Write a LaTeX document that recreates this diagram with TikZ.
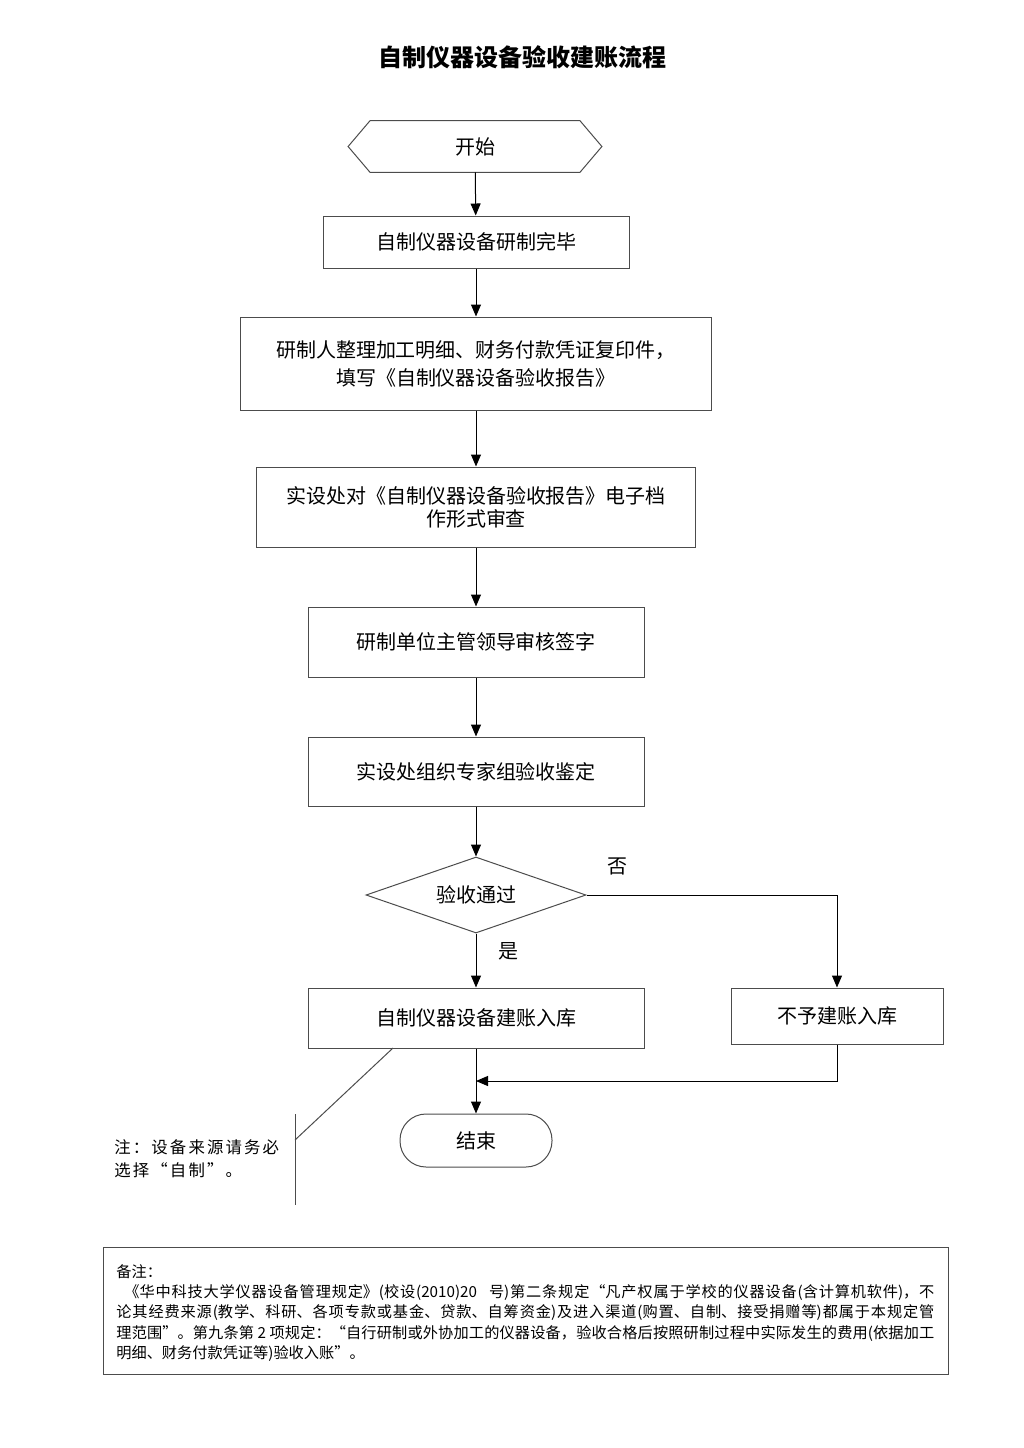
\documentclass[tikz,border=0pt]{standalone}
\usepackage{fontspec}
\setmainfont{Noto Sans CJK SC}
\usetikzlibrary{arrows.meta,shapes.geometric}
\XeTeXlinebreaklocale "zh"
\XeTeXlinebreakskip=0pt plus 1pt
\begin{document}
\begin{tikzpicture}[x=0.5pt,y=-0.5pt,
  ln/.style={draw=black!70,line width=0.5pt},
  box/.style={ln,rectangle,inner sep=0pt,align=center,font=\fontsize{10}{14}\selectfont},
  arr/.style={-{Triangle[length=6pt,width=5pt]},line width=0.5pt,draw=black},
  lbl/.style={inner sep=0pt,font=\fontsize{10}{14}\selectfont}]
\useasboundingbox (0,0) rectangle (1024,1448);
\node[inner sep=0pt,font=\fontsize{12}{14}\bfseries] (title) at (522,57) {自制仪器设备验收建账流程};
% start
\node[lbl,minimum width=126.5pt,minimum height=25.5pt] (start) at (475,146.5) {开始};
\draw[ln] (start.west) -- ([xshift=11pt]start.north west) -- ([xshift=-11pt]start.north east) -- (start.east) -- ([xshift=-11pt]start.south east) -- ([xshift=11pt]start.south west) -- cycle;
\node[box,minimum width=153pt,minimum height=26pt] (b1) at (476,242) {自制仪器设备研制完毕};
\node[box,minimum width=235.5pt,minimum height=46.5pt] (b2) at (476,363.5) {研制人整理加工明细、财务付款凭证复印件，\\ 填写《自制仪器设备验收报告》};
\node[box,minimum width=219.5pt,minimum height=40pt,font=\fontsize{10}{11.5}\selectfont] (b3) at (476,507) {实设处对《自制仪器设备验收报告》电子档\\ 作形式审查};
\node[box,minimum width=168pt,minimum height=35pt] (b4) at (476,642) {研制单位主管领导审核签字};
\node[box,minimum width=168pt,minimum height=34.5pt] (b5) at (476,771.5) {实设处组织专家组验收鉴定};
\node[ln,diamond,aspect=2.9,inner sep=0pt,minimum width=110pt,minimum height=38pt,font=\fontsize{10}{14}\selectfont] (dec) at (476,895) {验收通过};
\node[box,minimum width=168pt,minimum height=30pt] (b6) at (476,1018) {自制仪器设备建账入库};
\node[box,minimum width=106pt,minimum height=28pt] (b7) at (837,1016) {不予建账入库};
\node[box,rounded corners=13pt,minimum width=76pt,minimum height=26.5pt] (end) at (476,1140.5) {结束};
\node[lbl] (no) at (617,866) {否};
\node[lbl] (yes) at (508,951) {是};
% arrows
\draw[arr] (start) -- (b1);
\draw[arr] (b1) -- (b2);
\draw[arr] (b2) -- (b3);
\draw[arr] (b3) -- (b4);
\draw[arr] (b4) -- (b5);
\draw[arr] (b5) -- (dec);
\draw[arr] (dec) -- (b6);
\draw[arr] (dec.east) -| (b7.north);
\draw[arr] (b6) -- (end);
\coordinate (merge) at (476,1081);
\draw[arr] (b7.south) |- (merge);
% annotation
\coordinate (at) at (295,1114);
\coordinate (ab) at (295,1205);
\coordinate (am) at (295,1140);
\coordinate (ae) at (393,1048);
\draw[ln] (at) -- (ab);
\draw[ln] (am) -- (ae);
\node[anchor=west,inner sep=0pt,align=left,font=\fontsize{8.2}{11.5}\selectfont\addfontfeature{LetterSpace=13}] (ann) at (114,1158.5) {注：设备来源请务必\\ 选择“自制”。};
% note box
\node[ln,inner sep=0pt,minimum width=422.5pt,minimum height=63.5pt] (notebox) at (525.5,1310.5) {};
\node[anchor=north west,inner sep=0pt,text width=409pt,align=justify,font=\fontsize{7.6}{10.15}\selectfont] (notetext) at (116,1264) {备注：\\
\hspace*{4pt}《华中科技大学仪器设备管理规定》(校设(2010)20\hspace{6pt}号)第二条规定“凡产权属于学校的仪器设备(含计算机软件)，不\linebreak
论其经费来源(教学、科研、各项专款或基金、贷款、自筹资金)及进入渠道(购置、自制、接受捐赠等)都属于本规定管\linebreak
理范围”。第九条第 2 项规定：“自行研制或外协加工的仪器设备，验收合格后按照研制过程中实际发生的费用(依据加工\linebreak
明细、财务付款凭证等)验收入账”。};
\end{tikzpicture}
\end{document}
